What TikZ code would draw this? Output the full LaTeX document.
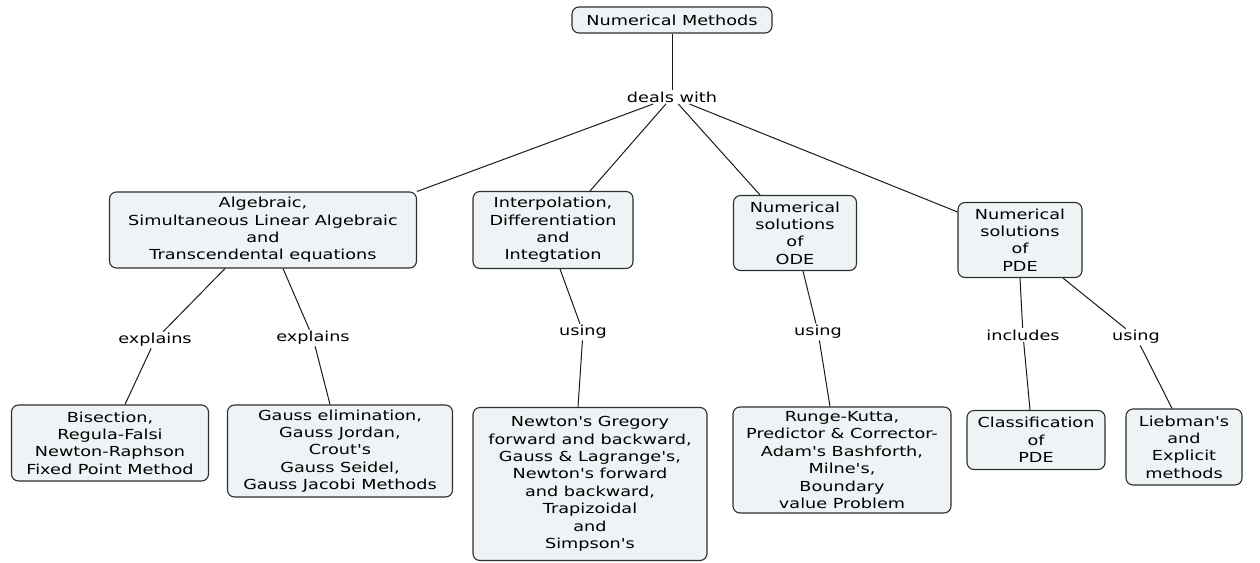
\documentclass[tikz,border=0pt]{standalone}
\usepackage{fontspec}
\setmainfont{DejaVu Sans}[FakeStretch=1.28,Ligatures=TeXOff]
\usepackage{xcolor}
\usepackage{tikz}
\definecolor{boxfill}{HTML}{EEF3F5}
\definecolor{boxline}{HTML}{2E2E2E}
\definecolor{linkline}{HTML}{1A1A1A}
\tikzset{every node/.append style={font=\fontsize{13.8}{17.4}\selectfont},
  concept/.style={draw=boxline,fill=boxfill,line width=1.1pt,rounded corners=7pt,
    align=center,inner sep=2pt},
  linkword/.style={fill=white,inner sep=1.5pt},
  link/.style={linkline,line width=1pt}}
\begin{document}
\begin{tikzpicture}[x=1pt,y=-1pt]
  \useasboundingbox (0,0) rectangle (1260,562);
  % concepts
  \node[concept,minimum width=200pt,minimum height=26pt] (nm) at (672,20) {Numerical Methods};
  \node[linkword] (deals) at (672,97) {deals with};
  \node[concept,minimum width=307pt,minimum height=76pt] (alg) at (263,230)
    {Algebraic,\\Simultaneous Linear Algebraic\\and\\Transcendental equations};
  \node[concept,minimum width=160pt,minimum height=77pt] (interp) at (553,230)
    {Interpolation,\\Differentiation\\and\\Integtation};
  \node[concept,minimum width=123pt,minimum height=75pt] (ode) at (795,233)
    {Numerical\\solutions\\of\\ODE};
  \node[concept,minimum width=124pt,minimum height=75pt] (pde) at (1020,240)
    {Numerical\\solutions\\of\\PDE};
  \node[concept,minimum width=197pt,minimum height=76pt] (bis) at (110,443)
    {Bisection,\\Regula-Falsi\\Newton-Raphson\\Fixed Point Method};
  \node[concept,minimum width=225pt,minimum height=92pt] (gauss) at (340,451)
    {Gauss elimination,\\Gauss Jordan,\\Crout's\\Gauss Seidel,\\Gauss Jacobi Methods};
  \node[concept,minimum width=234pt,minimum height=153pt] (newton) at (590,484)
    {Newton's Gregory\\forward and backward,\\Gauss \& Lagrange's,\\Newton's forward\\and backward,\\Trapizoidal\\and\\Simpson's};
  \node[concept,minimum width=218pt,minimum height=106pt] (runge) at (842,460)
    {Runge-Kutta,\\Predictor \& Corrector-\\Adam's Bashforth,\\Milne's,\\Boundary\\value Problem};
  \node[concept,minimum width=138pt,minimum height=59pt] (classif) at (1036,440)
    {Classification\\of\\PDE};
  \node[concept,minimum width=116pt,minimum height=76pt] (lieb) at (1184,447)
    {Liebman's\\and\\Explicit\\methods};
  % linking words
  \node[linkword] (expl1) at (155,340) {explains};
  \node[linkword] (expl2) at (313,338) {explains};
  \node[linkword] (using1) at (583,332) {using};
  \node[linkword] (using2) at (818,332) {using};
  \node[linkword] (incl) at (1023,335) {includes};
  \node[linkword] (using3) at (1136,337) {using};
  % links
  \draw[link] (nm) -- (deals);
  \draw[link] (deals) -- (alg.north east);
  \draw[link] (deals) -- ([xshift=37pt]interp.north);
  \draw[link] (deals) -- ([xshift=-35pt]ode.north);
  \draw[link] (deals) -- ([yshift=-10pt]pde.north west);
  \draw[link] ([xshift=-38pt]alg.south) -- (expl1);
  \draw[link] (expl1) -- ([xshift=15pt]bis.north);
  \draw[link] ([xshift=20pt]alg.south) -- (expl2);
  \draw[link] (expl2) -- ([xshift=-10pt]gauss.north);
  \draw[link] ([xshift=7pt]interp.south) -- (using1);
  \draw[link] (using1) -- ([xshift=-12pt]newton.north);
  \draw[link] ([xshift=8pt]ode.south) -- (using2);
  \draw[link] (using2) -- ([xshift=-12pt]runge.north);
  \draw[link] (pde.south) -- (incl);
  \draw[link] (incl) -- ([xshift=-6pt]classif.north);
  \draw[link] ([xshift=43pt]pde.south) -- (using3);
  \draw[link] (using3) -- ([xshift=-12pt]lieb.north);
\end{tikzpicture}
\end{document}
